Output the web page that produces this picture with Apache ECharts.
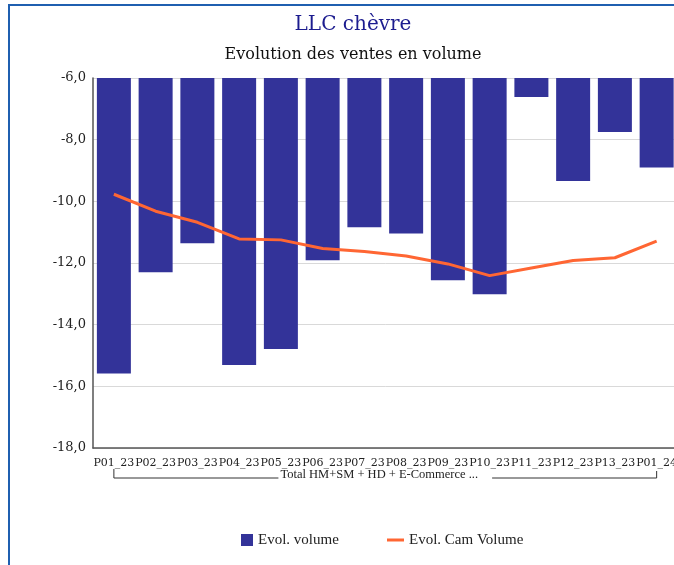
<!DOCTYPE html>
<html>
<head>
<meta charset="utf-8">
<script src="https://cdn.jsdelivr.net/npm/echarts@6/dist/echarts.min.js"></script>
<style>
  html, body { margin: 0; padding: 0; overflow: hidden; background: #fff; }
  #frame { position: absolute; left: 8px; top: 4px; width: 720px; height: 620px;
           border-left: 2px solid #1f5fb0; border-top: 2px solid #1f5fb0; }
  #chart { position: absolute; left: 0; top: 0; width: 680px; height: 565px; }
</style>
</head>
<body>
<div id="frame"></div>
<div id="chart"></div>
<script>
const periods = ['P01_23', 'P02_23', 'P03_23', 'P04_23', 'P05_23', 'P06_23', 'P07_23',
  'P08_23', 'P09_23', 'P10_23', 'P11_23', 'P12_23', 'P13_23', 'P01_24'];
const evolVolume = [-15.58, -12.30, -11.36, -15.31, -14.79, -11.91, -10.84,
  -11.04, -12.56, -13.01, -6.62, -9.34, -7.75, -8.90];
const evolCamVolume = [-9.77, -10.32, -10.68, -11.22, -11.25, -11.53, -11.63,
  -11.77, -12.03, -12.41, -12.16, -11.92, -11.83, -11.29];
const groupLabel = 'Total HM+SM + HD + E-Commerce ...';

const serif = '"Liberation Serif", serif';
const dejavu = '"DejaVu Serif", serif';

const chart = echarts.init(document.getElementById('chart'));

const option = {
  animation: false,
  title: [
    {
      text: 'LLC chèvre',
      left: 348,
      textAlign: 'center',
      top: 10,
      textStyle: { fontFamily: dejavu, fontSize: 20, fontWeight: 'normal', color: '#1c1c8f' }
    },
    {
      text: 'Evolution des ventes en volume',
      left: 348,
      textAlign: 'center',
      top: 42,
      textStyle: { fontFamily: dejavu, fontSize: 16, fontWeight: 'normal', color: '#111' }
    }
  ],
  legend: [
    {
      data: [{ name: 'Evol. volume', icon: 'rect' }],
      left: 241,
      top: 532,
      padding: 0,
      itemWidth: 12,
      itemHeight: 12,
      itemGap: 6,
      textStyle: { fontFamily: serif, fontSize: 15, lineHeight: 16, color: '#222' }
    },
    {
      data: [{ name: 'Evol. Cam Volume', icon: 'rect' }],
      left: 387,
      top: 532,
      padding: 0,
      itemWidth: 17,
      itemHeight: 3,
      textStyle: { fontFamily: serif, fontSize: 15, lineHeight: 16, color: '#222' }
    }
  ],
  grid: {
    left: 93,
    right: 0,
    top: 78,
    bottom: 117
  },
  xAxis: {
    type: 'category',
    data: periods,
    axisLine: { onZero: false, lineStyle: { color: '#555', width: 1.5 } },
    axisTick: { show: false },
    axisLabel: { interval: 0, margin: 10, fontFamily: dejavu, fontSize: 11, color: '#222' }
  },
  yAxis: {
    type: 'value',
    min: -18,
    max: -6,
    interval: 2,
    axisLine: { show: true, lineStyle: { color: '#555', width: 1.5 } },
    axisTick: { show: false },
    axisLabel: {
      margin: 7,
      fontFamily: dejavu,
      fontSize: 13,
      color: '#222',
      formatter: v => v.toFixed(1).replace('.', ',')
    },
    splitLine: { lineStyle: { color: '#d9d9d9', width: 1 } }
  },
  series: [
    {
      name: 'Evol. volume',
      type: 'bar',
      data: evolVolume,
      barWidth: 34,
      itemStyle: { color: '#333399' }
    },
    {
      name: 'Evol. Cam Volume',
      type: 'line',
      data: evolCamVolume,
      showSymbol: false,
      symbol: 'none',
      lineStyle: { color: '#ff6633', width: 3 },
      itemStyle: { color: '#ff6633' }
    }
  ]
};

chart.setOption(option);

// bracket under the category labels, spanning first to last category
const x1 = chart.convertToPixel({ xAxisIndex: 0 }, periods[0]);
const x2 = chart.convertToPixel({ xAxisIndex: 0 }, periods[periods.length - 1]);
const yBase = chart.convertToPixel({ yAxisIndex: 0 }, -18);
const lineY = yBase + 30;
const ctx = document.createElement('canvas').getContext('2d');
ctx.font = '12.5px "Liberation Serif"';
const tw = ctx.measureText(groupLabel).width;
const mid = (x1 + x2) / 2 - 6;
const tLeft = mid - tw / 2;
const tRight = mid + tw / 2;
const bracketStyle = { stroke: '#333', lineWidth: 1 };

chart.setOption({
  graphic: [
    { type: 'polyline', shape: { points: [[x1, lineY - 9], [x1, lineY], [tLeft - 2, lineY]] }, style: bracketStyle, silent: true },
    { type: 'polyline', shape: { points: [[tRight + 14, lineY], [x2, lineY], [x2, lineY - 7]] }, style: bracketStyle, silent: true },
    {
      type: 'text',
      x: mid,
      y: lineY - 3,
      style: {
        text: groupLabel,
        font: '12.5px "Liberation Serif"',
        fill: '#222',
        align: 'center',
        verticalAlign: 'middle'
      },
      silent: true
    }
  ]
});
</script>
</body>
</html>
